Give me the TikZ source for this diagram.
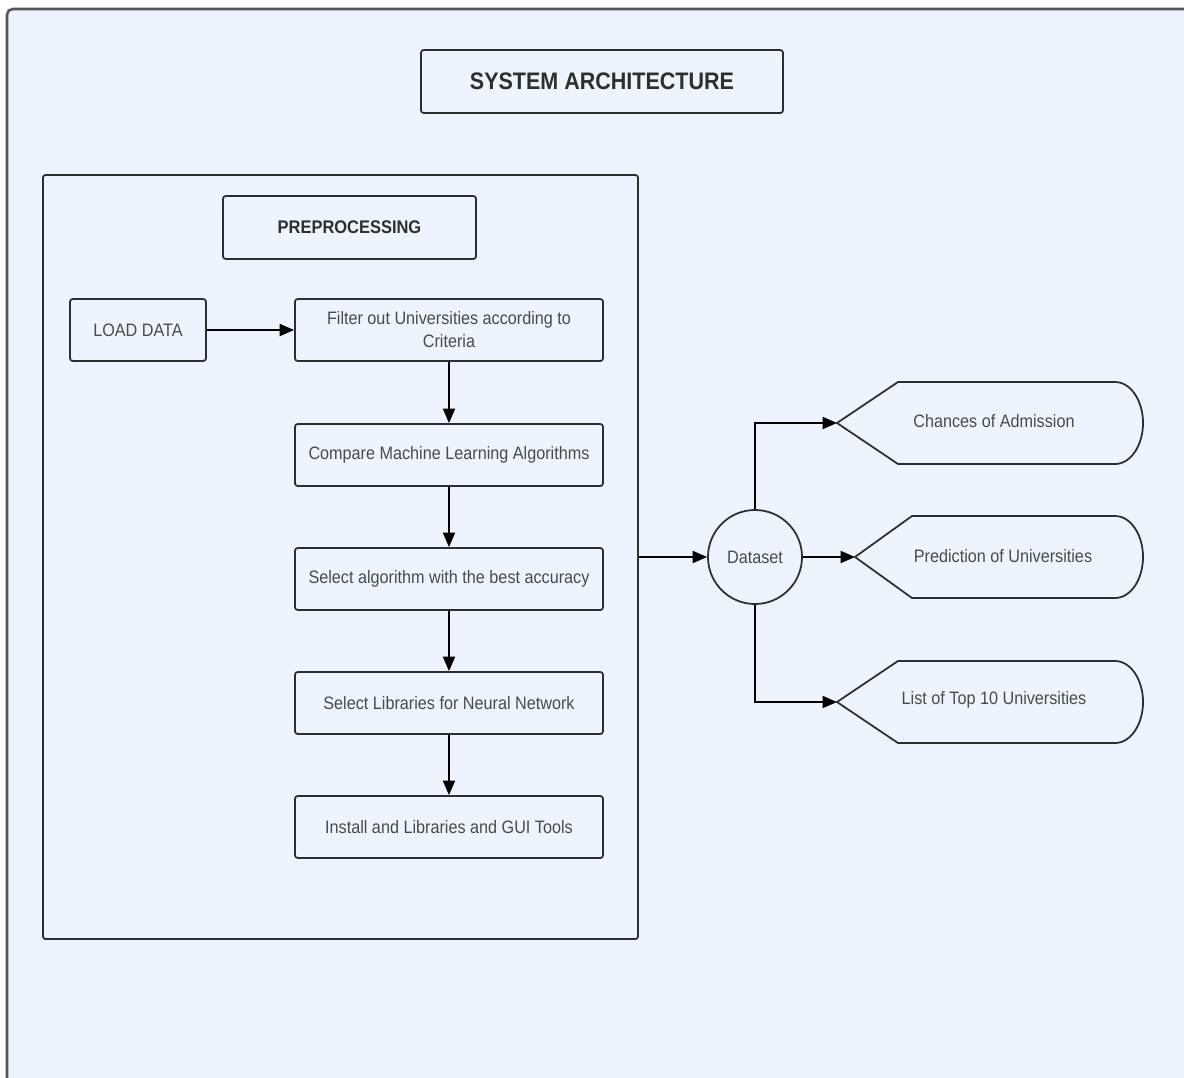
\documentclass[tikz,border=0pt]{standalone}
\usepackage{fontspec}
\setmainfont{Liberation Sans}[FakeStretch=0.9]
\usetikzlibrary{arrows.meta}
\usetikzlibrary{calc}

\definecolor{bgblue}{HTML}{EDF4FD}
\definecolor{linegray}{HTML}{2E2E2E}
\definecolor{framegray}{HTML}{555555}
\definecolor{textgray}{HTML}{4A4A4A}

\begin{document}
\begin{tikzpicture}[x=0.025cm,y=-0.025cm,>/.tip={Triangle[length=3.6mm,width=3mm]},
	box/.style={shape=rectangle,draw=linegray,line width=1.25pt,rounded corners=2pt,text=textgray,font=\fontsize{12.8}{16.4}\selectfont,align=center},
	stepbox/.style={box,minimum width=7.7cm,minimum height=1.55cm},
	headbox/.style={box,text=linegray,font=\bfseries\fontsize{13}{15}\selectfont},
	flow/.style={->,draw=black,line width=1.25pt},
	outshape/.style={draw=linegray,line width=1.25pt},
	outtext/.style={text=textgray,font=\fontsize{12.8}{15}\selectfont}]
	\useasboundingbox (0,0) rectangle (1184,1078);
	\fill[white] (0,0) rectangle (1184,1078);
	\draw[fill=bgblue,draw=framegray,line width=1.8pt,rounded corners=4pt] (7,1100) -- (7,9) -- (1200,9) -- (1200,1100) -- cycle;
	% title and preprocessing block
	\draw (602,81.5) node (title) [headbox,minimum width=9.05cm,minimum height=1.575cm,font=\bfseries\fontsize{17}{19}\selectfont] {SYSTEM ARCHITECTURE};
	\draw (340.5,557) node (pre) [box,minimum width=14.875cm,minimum height=19.1cm] {};
	\draw (349.5,227.5) node (prehead) [headbox,minimum width=6.325cm,minimum height=1.575cm] {PREPROCESSING};
	\draw (138,330) node (load) [box,minimum width=3.4cm,minimum height=1.55cm] {LOAD DATA};
	\draw (449,330) node (filt) [stepbox] {Filter out Universities according to\\Criteria};
	\draw (449,455) node (comp) [stepbox] {Compare Machine Learning Algorithms};
	\draw (449,579) node (best) [stepbox] {Select algorithm with the best accuracy};
	\draw (449,703) node (libs) [stepbox] {Select Libraries for Neural Network};
	\draw (449,827) node (inst) [stepbox] {Install and Libraries and GUI Tools};
	\draw[flow] (load) -- (filt);
	\draw[flow] (filt) -- (comp);
	\draw[flow] (comp) -- (best);
	\draw[flow] (best) -- (libs);
	\draw[flow] (libs) -- (inst);
	% dataset and outputs
	\draw (755,557) node (data) [box,shape=circle,rounded corners=0pt,minimum size=2.35cm,inner sep=0pt] {Dataset};
	\coordinate (chance) at (837,423);
	\coordinate (pred) at (855,557);
	\coordinate (top) at (837,702);
	\draw[outshape] (chance) -- ++(61,-41) -- (1115,382) arc[start angle=90,end angle=-90,x radius=0.7cm,y radius=1.025cm] -- (898,464) -- cycle;
	\draw[outshape] (pred) -- ++(57,-41) -- (1115,516) arc[start angle=90,end angle=-90,x radius=0.7cm,y radius=1.025cm] -- (912,598) -- cycle;
	\draw[outshape] (top) -- ++(61,-41) -- (1115,661) arc[start angle=90,end angle=-90,x radius=0.7cm,y radius=1.025cm] -- (898,743) -- cycle;
	\draw (994,421) node (chancetxt) [outtext] {Chances of Admission};
	\draw (1003,556) node (predtxt) [outtext] {Prediction of Universities};
	\draw (994,700) node (toptxt) [outtext] {List of Top 10 Universities};
	\draw[flow] (pre.east) -- (data.west);
	\draw[flow] (data.east) -- (pred);
	\draw[flow] (data.north) |- (chance);
	\draw[flow] (data.south) |- (top);
\end{tikzpicture}
\end{document}
